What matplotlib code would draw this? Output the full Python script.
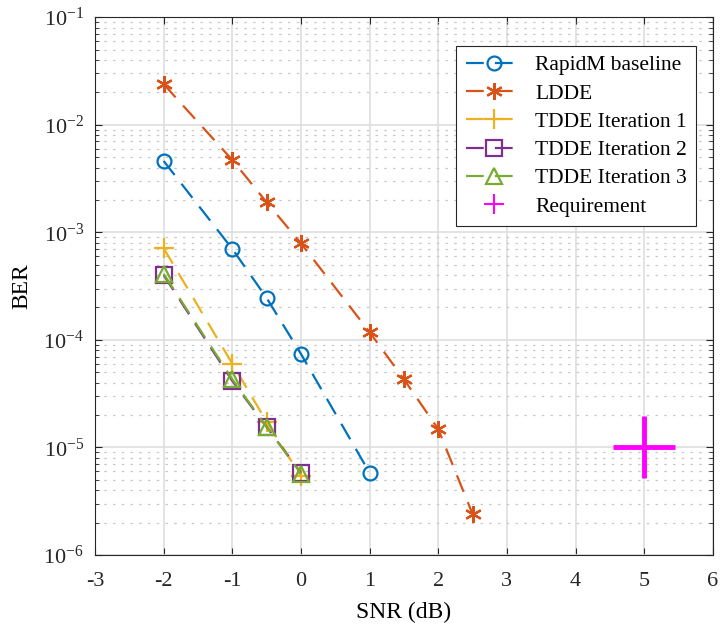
import matplotlib
matplotlib.use("Agg")
import matplotlib.pyplot as plt
from matplotlib.ticker import LogLocator, NullFormatter, FixedLocator

plt.rcParams['font.family'] = ['Liberation Serif', 'DejaVu Serif']
plt.rcParams['mathtext.fontset'] = 'custom'
plt.rcParams['mathtext.rm'] = 'Liberation Serif'

snr_base = [-2, -1, -0.5, 0, 1]
ber_base = [4.6e-3, 7.0e-4, 2.45e-4, 7.4e-5, 5.8e-6]

snr_ldde = [-2, -1, -0.5, 0, 1, 1.5, 2, 2.5]
ber_ldde = [2.38e-2, 4.7e-3, 1.9e-3, 7.9e-4, 1.18e-4, 4.3e-5, 1.48e-5, 2.4e-6]

snr_tdde = [-2, -1, -0.5, 0]
ber_tdde1 = [7.1e-4, 6.0e-5, 1.73e-5, 5.4e-6]
ber_tdde2 = [4.0e-4, 4.15e-5, 1.55e-5, 5.8e-6]
ber_tdde3 = [4.1e-4, 4.3e-5, 1.55e-5, 5.7e-6]

req_snr = [5]
req_ber = [1e-5]

ytick_vals = [1e-6, 1e-5, 1e-4, 1e-3, 1e-2, 1e-1]
ytick_labels = [r'$\mathrm{10^{-6}}$', r'$\mathrm{10^{-5}}$', r'$\mathrm{10^{-4}}$',
                r'$\mathrm{10^{-3}}$', r'$\mathrm{10^{-2}}$', r'$\mathrm{10^{-1}}$']

fig = plt.figure(figsize=(7.2, 6.35), dpi=100)
ax = fig.add_axes([0.132, 0.126, 0.858, 0.847])

dash = (0, (8, 5))
lw = 1.6
ax.semilogy(snr_base, ber_base, linestyle=dash, color='#0072BD', lw=lw, marker='o',
            ms=10, mfc='none', mew=1.6, label='RapidM baseline')
ax.semilogy(snr_ldde, ber_ldde, linestyle=dash, color='#D95319', lw=lw, marker=(6, 2, 0),
            ms=12, mew=1.6, label='LDDE')
ax.semilogy(snr_tdde, ber_tdde1, linestyle=dash, color='#EDB120', lw=lw, marker='+',
            ms=14, mew=1.6, label='TDDE Iteration 1')
ax.semilogy(snr_tdde, ber_tdde2, linestyle=dash, color='#7E2F8E', lw=lw, marker='s',
            ms=11, mfc='none', mew=1.6, label='TDDE Iteration 2')
ax.semilogy(snr_tdde, ber_tdde3, linestyle=dash, color='#77AC30', lw=lw, marker='^',
            ms=11, mfc='none', mew=1.6, label='TDDE Iteration 3')
ax.semilogy(req_snr, req_ber, linestyle='none', color='#FF00FF', marker='+',
            ms=45, mew=3.5, label='Requirement')

ax.set_xlim(-3, 6)
ax.set_ylim(1e-6, 1e-1)
ax.set_xticks(range(-3, 7))
ax.set_xticklabels([str(v) for v in range(-3, 7)])
ax.set_yticks(ytick_vals)
ax.set_yticklabels(ytick_labels)
ax.yaxis.set_minor_locator(LogLocator(base=10, subs=range(2, 10), numticks=20))
ax.yaxis.set_minor_formatter(NullFormatter())

ax.grid(True, which='major', color='#dedede', lw=1.2, ls='-')
ax.grid(True, which='minor', axis='y', color='#c8c8c8', lw=0.9, ls=(0, (2, 5)))
ax.set_axisbelow(True)

for s in ax.spines.values():
    s.set_color('#262626')
    s.set_linewidth(0.8)
ax.tick_params(which='both', direction='in', colors='#262626', labelsize=16, top=True, right=True)
ax.tick_params(which='major', length=5)
ax.tick_params(which='minor', length=3)
ax.tick_params(axis='x', which='major', pad=12)
ax.tick_params(axis='y', which='major', pad=8)

ax.set_xlabel('SNR (dB)', fontsize=17, labelpad=8)
ax.set_ylabel('BER', fontsize=17, labelpad=8)

leg = ax.legend(loc='upper right', fontsize=15.5, frameon=True, fancybox=False,
                edgecolor='#262626', framealpha=1, handlelength=2.6, handletextpad=0.6,
                borderpad=0.45, labelspacing=0.38, markerscale=1.0,
                bbox_to_anchor=(0.991, 0.967))
leg.get_frame().set_linewidth(0.8)
for h in leg.legend_handles:
    if h.get_label() == 'Requirement':
        h.set_markersize(14)
        h.set_markeredgewidth(1.5)

fig.savefig('out.png', dpi=100)
